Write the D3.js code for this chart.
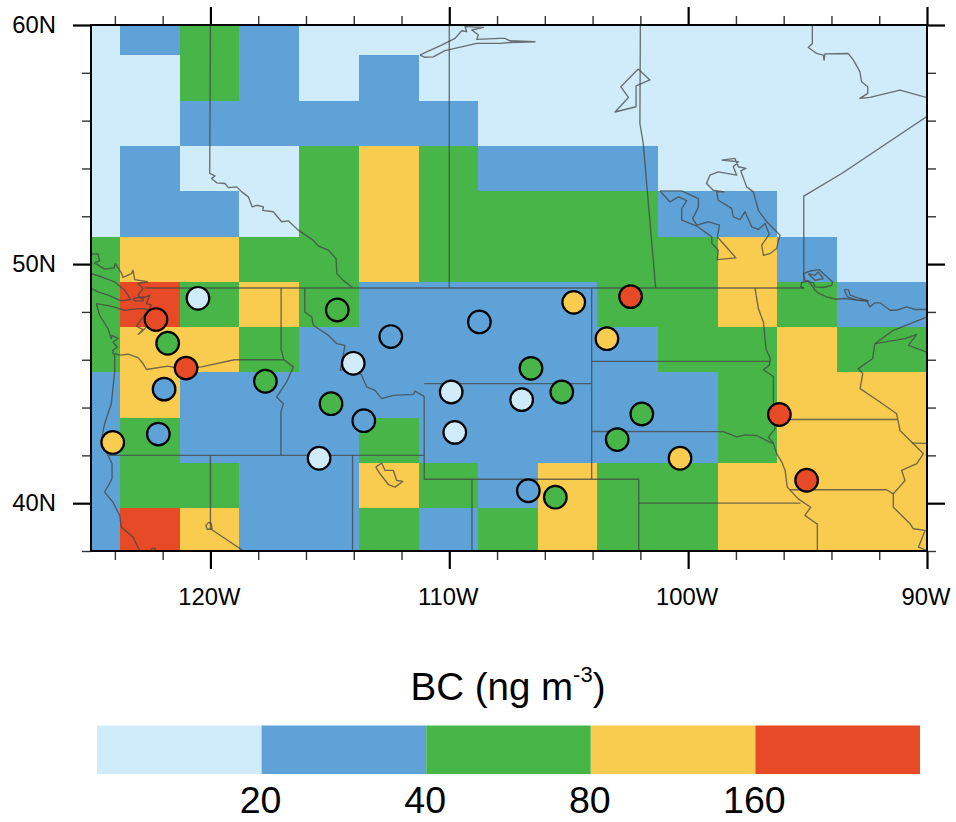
<!DOCTYPE html>
<html>
<head>
<meta charset="utf-8">
<script src="https://cdnjs.cloudflare.com/ajax/libs/d3/7.8.5/d3.min.js"></script>
<style>
html,body{margin:0;padding:0;background:#fff}
svg{display:block;font-family:"Liberation Sans",Arial,sans-serif}
</style>
</head>
<body>
<svg id="chart" width="956" height="822"></svg>
<script>
// ---- colour classes ----
const thresholds = [20, 40, 80, 160];
const classColors = ["#d0ecfb", "#5fa2d7", "#47b548", "#f9cc50", "#e64a27"];
const legendLabels = ["20", "40", "80", "160"];
const legendTitle = "BC (ng m";
const legendTitleSup = "-3";

// ---- model grid (values in ng m-3) ----
const lonEdges = [-125,-123.77,-121.29,-118.80,-116.31,-113.78,-111.28,-108.80,-106.30,-103.81,-101.27,-98.76,-96.28,-93.77,-91.26,-90];
const latEdges = [60,58.74,56.84,54.95,53.05,51.12,49.26,47.37,45.47,43.58,41.68,39.79,38];
const gridValues = [
 [15,30,60,30,15,15,15,15,15,15,15,15,15,15,15],
 [15,15,60,30,15,30,15,15,15,15,15,15,15,15,15],
 [15,15,30,30,30,30,30,15,15,15,15,15,15,15,15],
 [15,30,15,15,60,120,60,30,30,30,15,15,15,15,15],
 [15,30,30,15,60,120,60,60,60,60,30,30,15,15,15],
 [60,120,120,60,60,120,60,60,60,60,60,120,30,15,15],
 [60,200,60,120,60,30,30,30,30,60,60,120,60,30,30],
 [60,120,120,60,30,30,30,30,30,30,60,60,120,60,60],
 [30,120,30,30,30,30,30,30,30,30,30,60,120,120,120],
 [30,60,30,30,30,60,30,30,30,30,30,60,120,120,120],
 [30,60,60,30,30,120,60,30,120,60,60,120,120,120,120],
 [30,200,120,30,30,60,30,60,120,60,60,120,120,120,120]
];

// ---- observation sites ----
const siteLon = [-120.52,-122.28,-121.79,-121.02,-121.94,-122.18,-124.09,-114.69,-117.70,-114.95,-115.45,-113.58,-112.45,-114.02,-109.92,-109.77,-108.74,-104.79,-102.41,-103.40,-106.58,-105.29,-106.97,-101.94,-102.97,-100.34,-96.18,-95.04,-106.69,-105.56];
const siteLat = [48.57,47.68,46.69,45.65,44.77,42.89,42.54,48.08,45.10,44.16,41.88,43.45,46.97,45.85,44.65,42.96,47.58,48.40,48.64,46.88,45.64,44.65,44.33,43.73,42.66,41.88,43.71,40.96,40.52,40.25];
const siteBC  = [15,200,60,200,30,30,120,60,60,60,15,30,30,15,15,15,30,120,200,120,60,60,15,60,60,120,200,200,30,60];

// ---- axis ticks ----
const lonMajor = [-120,-110,-100,-90];
const latMajor = [40,50,60];
const lonMinor = [-124,-122,-118,-116,-114,-112,-108,-106,-104,-102,-98,-96,-94,-92];
const latMinor = [38,42,44,46,48,52,54,56,58];
const lonFormat = d => Math.abs(d) + "W";
const latFormat = d => d + "N";

// ---- political boundaries and water, as [lon,lat] ----
const boundaries = [
 [[-122.75,49],[-95.15,49]],
 [[-120,60],[-120.03,53.79],[-119.81,53.69],[-119.95,53.58],[-119.74,53.40],[-119.39,53.37],[-119.25,53.20],[-118.90,53.23],[-118.69,53.02],[-118.41,52.81],[-118.25,52.39],[-118.06,52.46],[-117.78,52.39],[-117.81,52.25],[-117.37,52.19],[-117.02,51.77],[-116.74,51.81],[-116.32,51.42],[-115.69,50.99],[-115.48,50.75],[-115.06,50.58],[-114.74,50.23],[-114.71,49.60],[-114.44,49.32],[-114.04,49.01]],
 [[-110,60],[-110,49]],
 [[-102,60],[-102.02,55.88],[-101.88,55.05],[-101.36,49]],
 [[-95.16,49.3],[-95.16,52.84],[-93.57,53.79],[-89.99,56.18]],
 [[-116.05,49],[-116.05,48],[-115.76,47.79],[-115.69,47.44],[-115.06,47.02],[-114.71,46.67],[-114.37,46.60],[-114.44,46.18],[-114.57,45.56],[-114.02,45.67],[-113.67,45.35],[-113.46,44.86],[-113.11,44.72],[-112.83,44.37],[-112.34,44.51],[-111.5,44.55],[-111.44,44.69],[-111.05,44.47]],
 [[-117.04,49],[-117.04,46.42],[-116.92,46]],
 [[-116.92,46],[-118.99,46],[-120.38,45.70],[-121.08,45.59],[-121.78,45.73],[-122.68,45.59],[-122.82,45.84],[-123.03,46.09],[-123.45,46.23],[-123.80,46.19],[-124.01,46.26]],
 [[-116.92,46],[-116.53,45.70],[-116.81,45.07],[-117.23,44.44],[-116.95,44.16],[-117.05,43.81],[-117.05,42]],
 [[-124.25,42],[-111.05,42]],
 [[-120,42],[-120,38.93],[-118.64,38.02]],
 [[-120.07,39.21],[-119.96,39.14],[-119.93,38.93],[-120.13,38.90],[-120.19,39.07],[-120.07,39.21]],
 [[-114.05,42],[-114.05,38]],
 [[-111.05,45],[-104.04,45]],
 [[-111.05,44.47],[-111.05,41],[-102.07,41],[-102.07,38]],
 [[-109.05,41],[-109.05,38]],
 [[-104.04,49],[-104.04,41]],
 [[-102.07,40],[-95.3,40]],
 [[-104.04,45.93],[-96.56,45.93]],
 [[-104.04,43],[-98.53,42.99],[-97.97,42.77],[-97.62,42.86],[-97.13,42.83],[-96.71,42.62],[-96.43,42.49],[-96.29,42.07],[-96.08,41.72],[-95.94,41.37],[-95.85,40.67],[-95.39,40.18],[-94.87,39.83],[-95.11,39.49],[-94.62,39.14],[-94.59,39.14],[-94.59,38]],
 [[-97.2,49],[-97.06,48.14],[-96.85,47.58],[-96.74,46.46],[-96.56,46.04],[-96.6,45.77],[-96.85,45.58],[-96.43,45.3],[-96.43,43.53],[-96.36,43.11],[-96.64,42.76],[-96.41,42.49]],
 [[-96.43,43.5],[-91.24,43.5]],
 [[-95.74,40.56],[-91.69,40.56],[-91.41,40.39]],
 [[-90.64,42.51],[-90,42.5]],
 [[-89.99,47.79],[-91.41,47.23],[-92.18,46.67],[-92.28,46.04],[-92.88,45.63],[-92.69,45.42],[-92.8,44.79],[-91.97,44.23],[-91.27,43.74],[-91.13,43.04],[-90.57,42.49],[-90.15,42.07],[-90.43,41.65],[-91.06,41.37],[-90.92,40.95],[-91.41,40.39],[-91.41,39.83],[-90.71,39.14],[-90.57,38.93],[-90.08,38.86],[-90.36,38.16],[-90.01,38.02]],
 [[-92.18,46.67],[-90.92,46.88],[-90.43,47.06],[-90.78,46.6],[-90.01,46.32]],
 [[-95.15,49],[-95.29,49.05],[-95.25,49.23],[-94.97,49.3],[-94.69,48.91],[-94.55,48.79],[-94.2,48.63],[-93.81,48.53],[-93.43,48.56],[-92.94,48.49],[-92.52,48.45],[-92.39,48.21],[-92.18,48.38],[-91.97,48.38],[-91.55,48.07],[-91.27,48.07],[-90.85,48.21],[-90.5,48.1],[-90.01,48.1]],
 [[-95.18,49.6],[-94.9,49.71],[-94.51,49.77],[-94.27,49.53],[-93.95,49.25],[-93.99,49.11],[-94.34,49.02],[-94.69,49.05],[-94.76,49.21],[-95.11,49.32],[-95.18,49.6]],
 [[-94.97,49.6],[-94.69,49.53],[-94.55,49.67],[-94.34,49.39],[-94.69,49.32],[-94.97,49.6]],
 [[-93.47,48.93],[-93.29,48.93],[-93.22,48.70],[-92.8,48.56],[-92.45,48.46],[-92.94,48.49],[-93.33,48.63],[-93.47,48.93]],
 [[-102.09,58.16],[-101.6,57.7],[-102.18,57.45],[-102.18,56.58],[-103.06,56.36],[-102.5,56.97],[-102.82,57.42],[-102.09,58.16]],
 [[-101.18,53.06],[-100.76,52.6],[-100.41,52.81],[-100.06,52.65],[-100.27,52.32],[-100.27,51.84],[-99.64,51.59],[-99.01,51.14],[-99.01,50.86],[-98.74,50.58],[-98.78,50.19],[-98.0,50.26],[-98.53,50.86],[-98.78,51.14],[-98.69,51.63],[-99.15,51.77],[-99.64,51.63],[-99.81,51.9],[-99.57,52.39],[-99.57,52.74],[-100.27,53.06],[-101.18,53.06]],
 [[-98.6,54.35],[-98.04,54.42],[-97.9,54.07],[-97.58,54.0],[-97.8,53.9],[-97.55,53.23],[-97.27,53.02],[-97.06,52.25],[-96.71,51.77],[-96.15,51.21],[-96.22,51.0],[-96.29,50.65],[-96.57,50.44],[-96.85,50.37],[-96.92,50.79],[-96.6,51.25],[-96.78,51.7],[-97.06,51.45],[-97.34,51.56],[-97.62,52.19],[-97.83,51.86],[-98.11,51.98],[-98.18,52.33],[-98.74,52.67],[-98.81,53.02],[-98.5,53.02],[-98.95,53.09],[-99.23,53.37],[-99.09,53.72],[-98.74,53.86],[-97.97,53.72],[-98.11,54.07],[-97.9,54.28],[-98.6,54.35]],
 [[-94.8,60],[-94.8,59.23],[-94.97,59.06],[-94.62,58.81],[-94.34,58.74],[-94.31,58.53],[-94.27,58.79],[-93.3,58.81],[-93.08,58.53],[-92.81,58.05],[-92.74,57.63],[-92.48,57.42],[-92.48,57.14],[-92.81,56.93],[-92.39,56.97],[-91.13,57.28],[-89.99,56.96]],
 [[-111.23,58.74],[-110.95,58.88],[-110.32,59.16],[-109.76,59.44],[-109.48,59.76],[-109.27,59.72],[-109.34,59.93],[-108.57,59.9],[-109.06,59.79],[-108.78,59.58],[-108.85,59.4],[-107.88,59.44],[-107.67,59.44],[-107.46,59.34],[-106.41,59.3],[-107.46,59.27],[-107.88,59.23],[-108.85,59.23],[-110.18,58.93],[-110.67,58.67],[-111.02,58.65],[-111.23,58.74]],
 [[-113.08,41.51],[-112.83,41.68],[-112.69,41.37],[-112.34,41.37],[-112.2,40.95],[-111.95,40.91],[-112.27,40.67],[-112.55,40.78],[-112.9,41.23],[-113.08,41.51]],
 [[-124.01,46.19],[-124.01,45.49],[-124.15,44.16],[-124.43,43.32],[-124.57,42.63],[-124.29,42.0],[-124.12,41.65],[-124.12,41.02],[-124.43,40.46],[-124.08,40.04],[-123.8,39.49],[-123.73,39.0],[-123.24,38.58],[-122.96,38.0]],
 [[-122.54,37.99],[-122.47,38.09],[-122.33,38.12],[-122.27,37.99]],
 [[-124.78,48.35],[-124.64,47.86],[-124.29,47.3],[-124.15,46.88],[-124.12,47.02],[-123.87,46.88],[-124.08,46.74],[-123.9,46.53],[-124.08,46.39],[-124.08,46.26],[-124.01,46.19]],
 [[-124.78,48.35],[-124.22,48.25],[-123.59,48.07],[-123.03,48.14],[-122.75,48.14],[-122.61,48.07]],
 [[-124.96,50.41],[-124.71,50.44],[-124.64,50.13],[-124.85,50.05],[-124.43,49.79],[-124.04,49.84],[-123.98,50.02],[-123.73,49.63],[-123.66,49.44],[-123.31,49.6],[-123.24,49.74],[-123.17,49.35],[-122.64,49.26],[-123.03,49.19],[-122.82,48.98],[-123.03,48.7],[-122.89,48.56],[-122.54,48.7],[-122.68,48.35],[-122.47,48.28],[-122.64,48.0],[-122.4,47.79],[-122.54,47.51],[-122.89,47.16],[-123.03,47.06],[-122.82,47.26],[-123.1,47.4],[-122.82,47.79],[-122.61,48.07]],
 [[-123.24,48.56],[-122.82,48.63],[-122.82,48.46],[-123.17,48.46],[-123.24,48.56]],
 [[-125.2,49.7],[-124.99,49.6],[-124.57,49.47],[-124.01,49.26],[-123.59,48.91],[-123.34,48.52],[-123.73,48.46],[-124.29,48.7],[-124.71,48.84],[-124.99,48.98],[-125.2,49.1]]
];

// ---- scales ----
const x = d3.scaleLinear().domain([-125, -90]).range([91, 927]);
const y = d3.scaleLinear().domain([38, 60]).range([551, 25]);
const color = d3.scaleThreshold().domain(thresholds).range(classColors);
const legendX = d3.scaleBand().domain(d3.range(classColors.length)).range([97, 920]);

const svg = d3.select("#chart");
svg.append("defs").append("clipPath").attr("id", "plot")
  .append("rect").attr("x", x(-125)).attr("y", y(60)).attr("width", x(-90) - x(-125)).attr("height", y(38) - y(60));

// ---- grid cells ----
const cells = [];
gridValues.forEach((row, r) => row.forEach((v, c) => cells.push({r, c, v})));
svg.append("g").attr("class", "cells").attr("shape-rendering", "crispEdges")
  .selectAll("rect").data(cells).join("rect")
  .attr("x", d => x(lonEdges[d.c]))
  .attr("y", d => y(latEdges[d.r]))
  .attr("width", d => x(lonEdges[d.c + 1]) - x(lonEdges[d.c]))
  .attr("height", d => y(latEdges[d.r + 1]) - y(latEdges[d.r]))
  .attr("fill", d => color(d.v));

// ---- boundaries ----
const line = d3.line().x(d => x(d[0])).y(d => y(d[1]));
svg.append("g").attr("clip-path", "url(#plot)").selectAll("path").data(boundaries).join("path")
  .attr("d", line)
  .attr("fill", "none")
  .attr("stroke", "#444")
  .attr("stroke-opacity", 0.75)
  .attr("stroke-width", 1.35)
  .attr("stroke-linejoin", "round");

// ---- sites ----
svg.append("g").selectAll("circle").data(siteLon.map((lon, i) => ({lon, lat: siteLat[i], v: siteBC[i]}))).join("circle")
  .attr("cx", d => x(d.lon))
  .attr("cy", d => y(d.lat))
  .attr("r", 11.3)
  .attr("fill", d => color(d.v))
  .attr("stroke", "#000")
  .attr("stroke-width", 2.2);

// ---- axes ----
function styleAxis(g, w, col) {
  g.select(".domain").remove();
  g.selectAll(".tick line").attr("stroke", col).attr("stroke-width", w);
  g.selectAll("text").attr("fill", "#000").attr("font-size", 23.8).attr("font-family", '"Liberation Sans",Arial,sans-serif');
}
const axes = [
  {ctor: d3.axisBottom, scale: x, t: `translate(0,${y(38)})`, major: lonMajor, minor: lonMinor, fmt: lonFormat, pad: 19, dx: -1.5},
  {ctor: d3.axisTop,    scale: x, t: `translate(0,${y(60)})`, major: lonMajor, minor: lonMinor},
  {ctor: d3.axisLeft,   scale: y, t: `translate(${x(-125)},0)`, major: latMajor, minor: latMinor, fmt: latFormat, pad: 17},
  {ctor: d3.axisRight,  scale: y, t: `translate(${x(-90)},0)`, major: latMajor, minor: latMinor}
];
axes.forEach(a => {
  svg.append("g").attr("transform", a.t)
    .call(a.ctor(a.scale).tickValues(a.minor).tickSize(9).tickFormat(""))
    .call(g => styleAxis(g, 1.4, "#333"));
  svg.append("g").attr("transform", a.t)
    .call(a.ctor(a.scale).tickValues(a.major).tickSize(18).tickPadding(a.pad || 3).tickFormat(a.fmt || ""))
    .call(g => styleAxis(g, 2.2, "#000"))
    .call(g => g.selectAll("text").attr("dx", a.dx || 0));
});

// ---- frame ----
svg.append("rect")
  .attr("x", x(-125)).attr("y", y(60))
  .attr("width", x(-90) - x(-125)).attr("height", y(38) - y(60))
  .attr("fill", "none").attr("stroke", "#000").attr("stroke-width", 2);

// ---- colour bar ----
const legend = svg.append("g");
legend.selectAll("rect").data(classColors).join("rect")
  .attr("x", (d, i) => legendX(i))
  .attr("y", 725.5)
  .attr("width", legendX.bandwidth())
  .attr("height", 48.5)
  .attr("fill", d => d);
legend.selectAll("text.lab").data(legendLabels).join("text")
  .attr("class", "lab")
  .attr("x", (d, i) => legendX(i + 1))
  .attr("dx", -1)
  .attr("y", 813)
  .attr("text-anchor", "middle")
  .attr("font-size", 37.5)
  .attr("fill", "#000")
  .text(d => d);
const title = legend.append("text")
  .attr("x", 410.5).attr("y", 700)
  .attr("font-size", 38.5)
  .attr("fill", "#000");
title.append("tspan").text(legendTitle);
title.append("tspan").attr("dy", -18).attr("font-size", 22).text(legendTitleSup);
title.append("tspan").attr("dy", 18).text(")");
</script>
</body>
</html>
